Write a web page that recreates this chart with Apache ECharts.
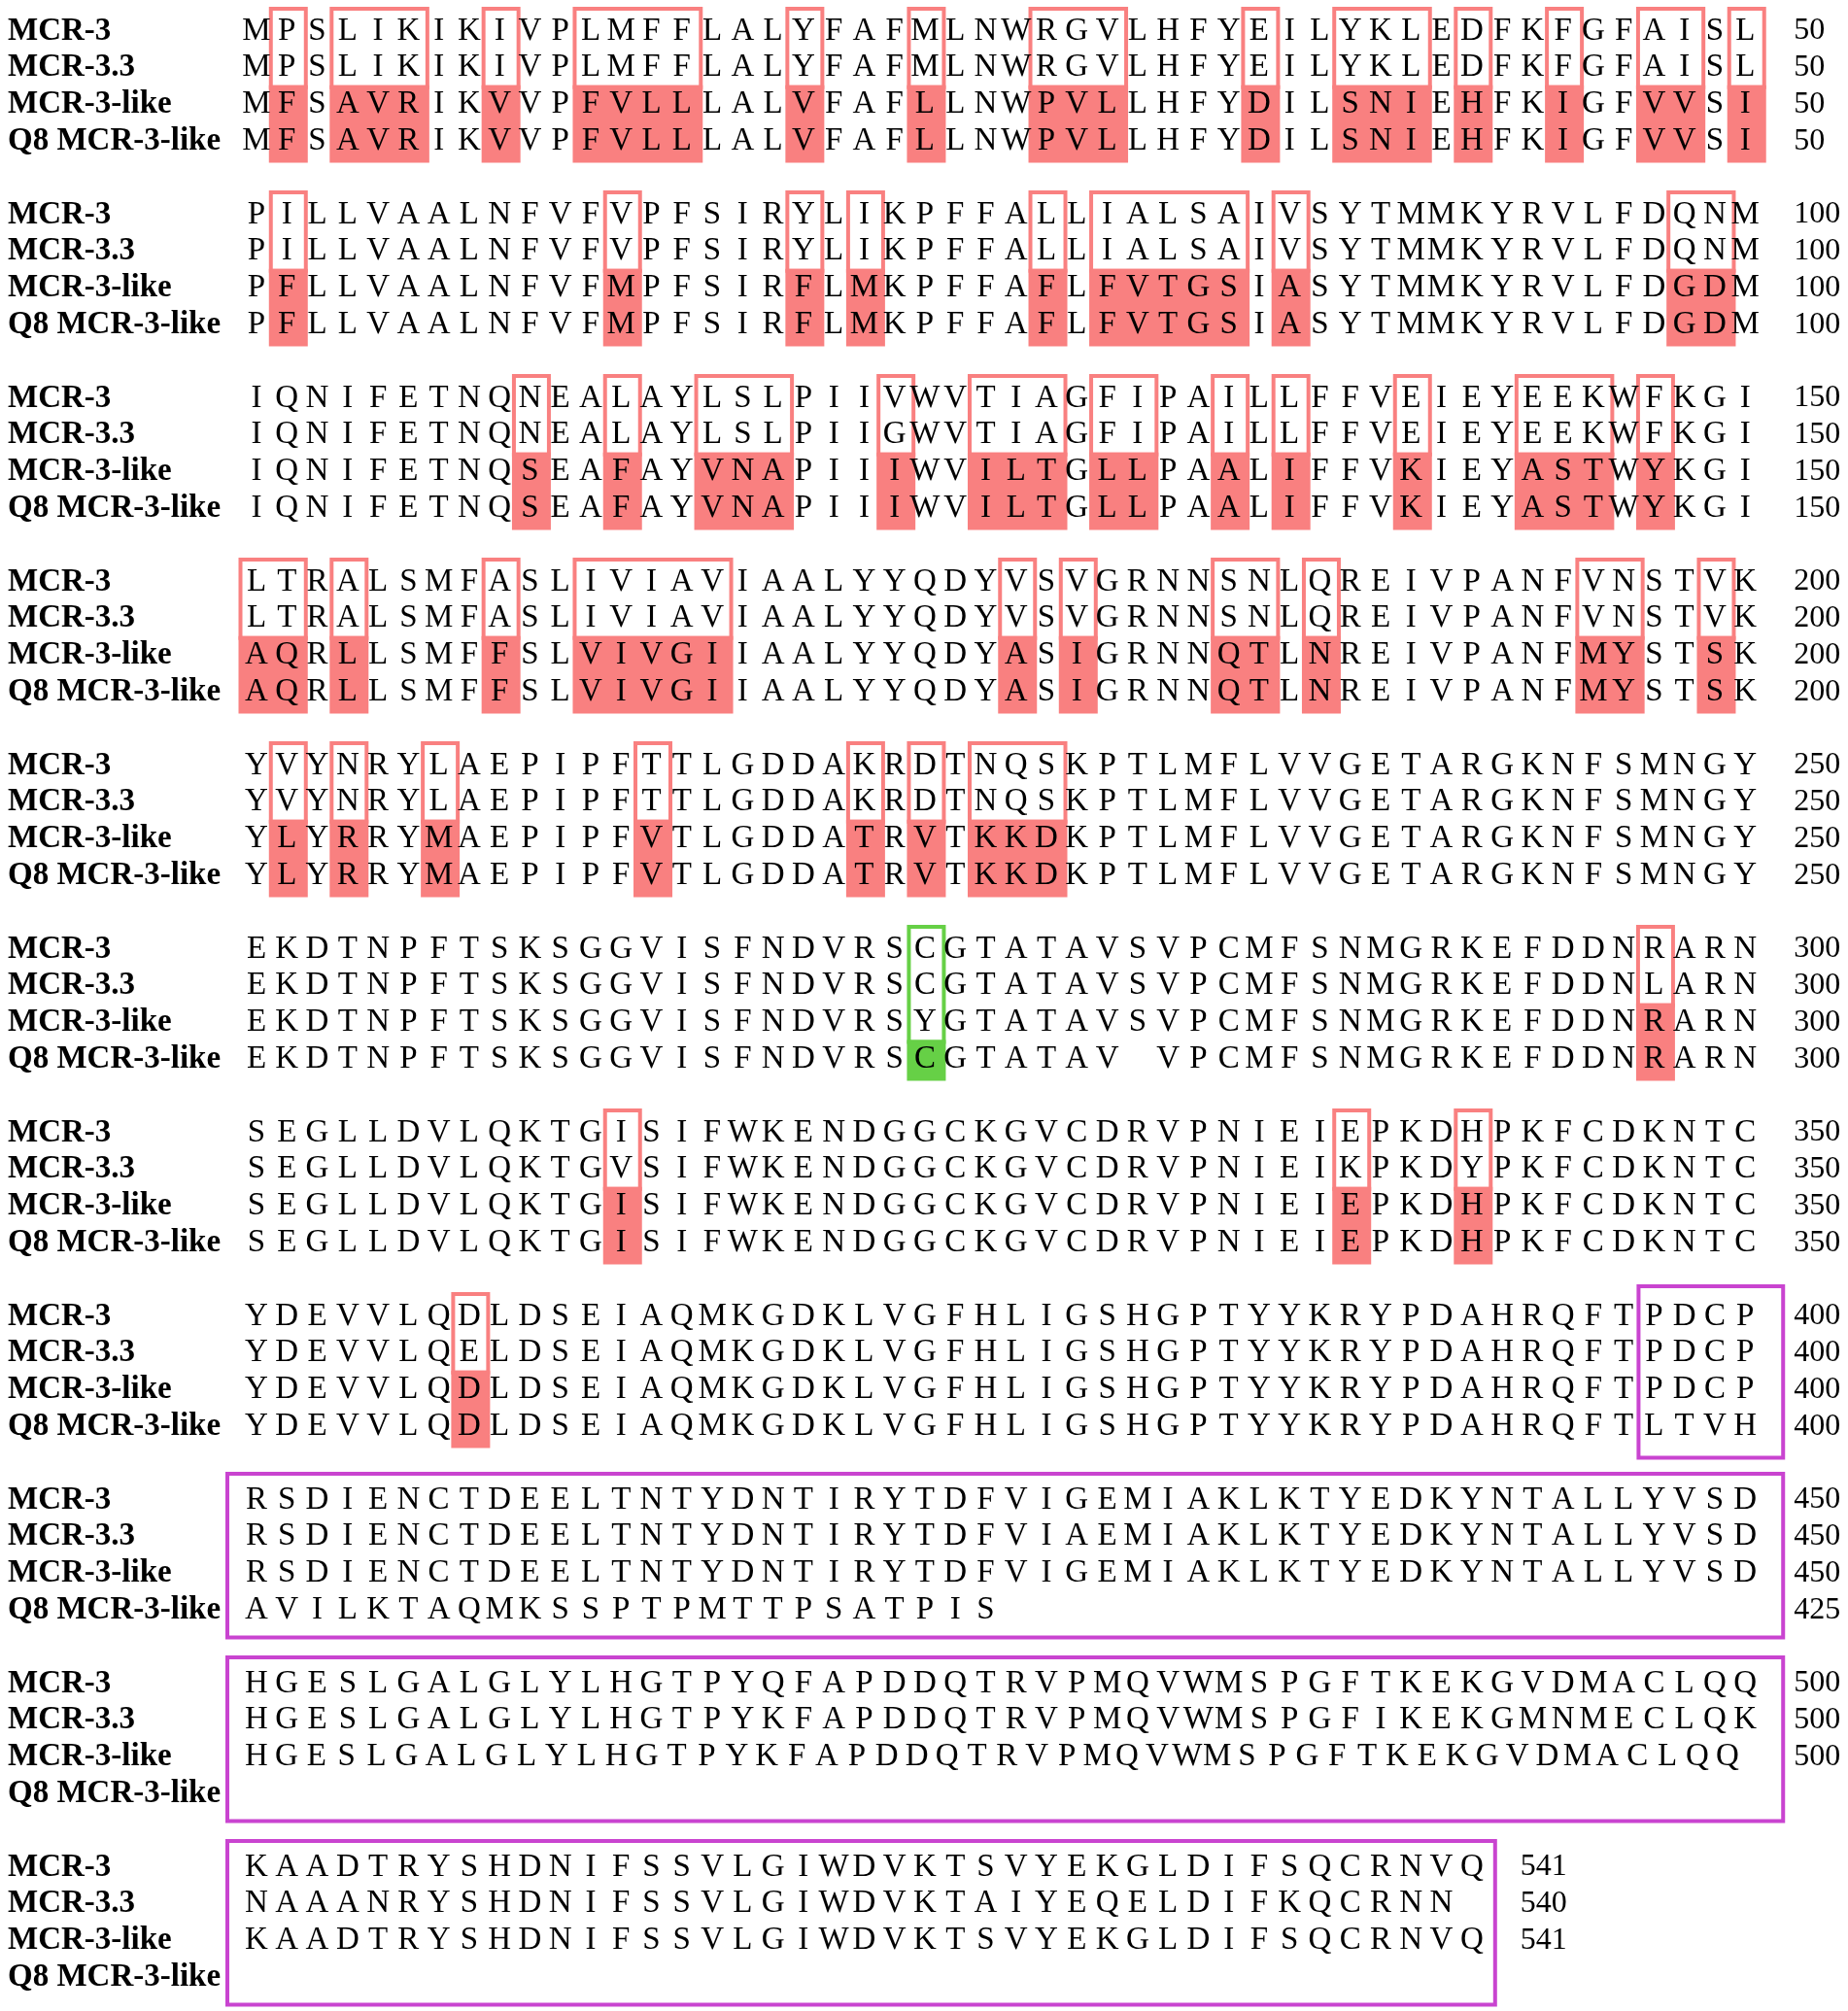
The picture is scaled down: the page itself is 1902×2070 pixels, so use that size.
<!DOCTYPE html>
<html><head><meta charset="utf-8">
<script src="https://cdn.jsdelivr.net/npm/echarts@6/dist/echarts.min.js"></script>
<style>html,body{margin:0;padding:0;background:#fff}#c{width:1902px;height:2070px}</style>
</head><body><div id="c"></div>
<script>
// ---------------- data ----------------
const seqNames = ['MCR-3', 'MCR-3.3', 'MCR-3-like', 'Q8 MCR-3-like'];
const blockSize = 50;

const seqMCR3 =
  'MPSLIKIKIVPLMFFLALYFAFMLNWRGVLHFYEILYKLEDFKFGFAISL' +
  'PILLVAALNFVFVPFSIRYLIKPFFALLIALSAIVSYTMMKYRVLFDQNM' +
  'IQNIFETNQNEALAYLSLPIIVWVTIAGFIPAILLFFVEIEYEEKWFKGI' +
  'LTRALSMFASLIVIAVIAALYYQDYVSVGRNNSNLQREIVPANFVNSTVK' +
  'YVYNRYLAEPIPFTTLGDDAKRDTNQSKPTLMFLVVGETARGKNFSMNGY' +
  'EKDTNPFTSKSGGVISFNDVRSCGTATAVSVPCMFSNMGRKEFDDNRARN' +
  'SEGLLDVLQKTGISIFWKENDGGCKGVCDRVPNIEIEPKDHPKFCDKNTC' +
  'YDEVVLQDLDSEIAQMKGDKLVGFHLIGSHGPTYYKRYPDAHRQFTPDCP' +
  'RSDIENCTDEELTNTYDNTIRYTDFVIGEMIAKLKTYEDKYNTALLYVSD' +
  'HGESLGALGLYLHGTPYQFAPDDQTRVPMQVWMSPGFTKEKGVDMACLQQ' +
  'KAADTRYSHDNIFSSVLGIWDVKTSVYEKGLDIFSQCRNVQ';

const seqMCR33 =
  'MPSLIKIKIVPLMFFLALYFAFMLNWRGVLHFYEILYKLEDFKFGFAISL' +
  'PILLVAALNFVFVPFSIRYLIKPFFALLIALSAIVSYTMMKYRVLFDQNM' +
  'IQNIFETNQNEALAYLSLPIIGWVTIAGFIPAILLFFVEIEYEEKWFKGI' +
  'LTRALSMFASLIVIAVIAALYYQDYVSVGRNNSNLQREIVPANFVNSTVK' +
  'YVYNRYLAEPIPFTTLGDDAKRDTNQSKPTLMFLVVGETARGKNFSMNGY' +
  'EKDTNPFTSKSGGVISFNDVRSCGTATAVSVPCMFSNMGRKEFDDNLARN' +
  'SEGLLDVLQKTGVSIFWKENDGGCKGVCDRVPNIEIKPKDYPKFCDKNTC' +
  'YDEVVLQELDSEIAQMKGDKLVGFHLIGSHGPTYYKRYPDAHRQFTPDCP' +
  'RSDIENCTDEELTNTYDNTIRYTDFVIAEMIAKLKTYEDKYNTALLYVSD' +
  'HGESLGALGLYLHGTPYKFAPDDQTRVPMQVWMSPGFIKEKGMNMECLQK' +
  'NAAANRYSHDNIFSSVLGIWDVKTAIYEQELDIFKQCRNN';

const seqMCR3like =
  'MFSAVRIKVVPFVLLLALVFAFLLNWPVLLHFYDILSNIEHFKIGFVVSI' +
  'PFLLVAALNFVFMPFSIRFLMKPFFAFLFVTGSIASYTMMKYRVLFDGDM' +
  'IQNIFETNQSEAFAYVNAPIIIWVILTGLLPAALIFFVKIEYASTWYKGI' +
  'AQRLLSMFFSLVIVGIIAALYYQDYASIGRNNQTLNREIVPANFMYSTSK' +
  'YLYRRYMAEPIPFVTLGDDATRVTKKDKPTLMFLVVGETARGKNFSMNGY' +
  'EKDTNPFTSKSGGVISFNDVRSYGTATAVSVPCMFSNMGRKEFDDNRARN' +
  'SEGLLDVLQKTGISIFWKENDGGCKGVCDRVPNIEIEPKDHPKFCDKNTC' +
  'YDEVVLQDLDSEIAQMKGDKLVGFHLIGSHGPTYYKRYPDAHRQFTPDCP' +
  'RSDIENCTDEELTNTYDNTIRYTDFVIGEMIAKLKTYEDKYNTALLYVSD' +
  'HGESLGALGLYLHGTPYKFAPDDQTRVPMQVWMSPGFTKEKGVDMACLQQ' +
  'KAADTRYSHDNIFSSVLGIWDVKTSVYEKGLDIFSQCRNVQ';

const seqQ8 =
  'MFSAVRIKVVPFVLLLALVFAFLLNWPVLLHFYDILSNIEHFKIGFVVSI' +
  'PFLLVAALNFVFMPFSIRFLMKPFFAFLFVTGSIASYTMMKYRVLFDGDM' +
  'IQNIFETNQSEAFAYVNAPIIIWVILTGLLPAALIFFVKIEYASTWYKGI' +
  'AQRLLSMFFSLVIVGIIAALYYQDYASIGRNNQTLNREIVPANFMYSTSK' +
  'YLYRRYMAEPIPFVTLGDDATRVTKKDKPTLMFLVVGETARGKNFSMNGY' +
  'EKDTNPFTSKSGGVISFNDVRSCGTATAV-VPCMFSNMGRKEFDDNRARN' +
  'SEGLLDVLQKTGISIFWKENDGGCKGVCDRVPNIEIEPKDHPKFCDKNTC' +
  'YDEVVLQDLDSEIAQMKGDKLVGFHLIGSHGPTYYKRYPDAHRQFTLTVH' +
  'AVILKTAQMKSSPTPMTTPSATPIS';

// highlighted residue ranges (alignment positions, inclusive)
const redSites = [
  [2,2],[4,6],[9,9],[12,15],[19,19],[23,23],[27,29],[34,34],[37,39],[41,41],[44,44],[47,48],[50,50],
  [52,52],[63,63],[69,69],[71,71],[77,77],[79,83],[85,85],[98,99],
  [110,110],[113,113],[116,118],[122,122],[125,127],[129,130],[133,133],[135,135],[139,139],[143,145],[147,147],
  [151,152],[154,154],[159,159],[162,166],[176,176],[178,178],[183,184],[186,186],[195,196],[199,199],
  [202,202],[204,204],[207,207],[214,214],[221,221],[223,223],[225,227],
  [297,297],[313,313],[337,337],[341,341],[358,358]
];
const greenSites = [[273,273]];
const framedRegions = [[397,400],[401,450],[451,500],[501,541]];

// ---------------- layout / style ----------------
const X1 = 264, PITCH = 31.27, Y0 = 32, ROWH = 37.8, RPB = 5;
const RED = '#F98080', GREEN = '#66D046', MAGENTA = '#C944D0';
const SEQ_FONT = '33px "Liberation Serif", "Times New Roman", serif';
const NUM_FONT = '32px "Liberation Serif", "Times New Roman", serif';
// the original figure typesets one row slightly tighter than the others
const rowTightness = { 47: 0.988 };

const seqs = [seqMCR3, seqMCR33, seqMCR3like, seqQ8];
const nBlocks = Math.ceil(Math.max(...seqs.map(s => s.length)) / blockSize);
const nRows = nBlocks * RPB - 1;
const rowKeys = [], rowLabels = [];
for (let r = 0; r < nRows; r++) { rowKeys.push('r' + r); rowLabels.push(r % RPB < 4 ? seqNames[r % RPB] : ''); }

// letters
const letterData = [], letterChars = [];
seqs.forEach((s, si) => {
  for (let i = 0; i < s.length; i++) {
    const ch = s[i];
    if (ch === '-') continue;
    const b = Math.floor(i / blockSize);
    letterData.push([i % blockSize + 1, b * RPB + si]);
    letterChars.push(ch);
  }
});

// right-hand numbers
const numData = [], numLabels = [];
for (let b = 0; b < nBlocks; b++) {
  const lens = seqs.map(s => Math.max(0, Math.min(blockSize, s.length - b * blockSize)));
  const maxLen = Math.max(...lens);
  lens.forEach((l, si) => {
    if (l > 0) { numData.push([maxLen, b * RPB + si]); numLabels.push(String(b * blockSize + l)); }
  });
}

function toBlockRange(a, e) {
  const b = Math.floor((a - 1) / blockSize);
  return [(a - 1) % blockSize + 1, b * RPB, (e - 1) % blockSize + 1];
}
const hlData = [];
redSites.forEach(([a, e]) => hlData.push(toBlockRange(a, e).concat([0])));
greenSites.forEach(([a, e]) => hlData.push(toBlockRange(a, e).concat([1])));
const frameData = framedRegions.map(([a, e]) => toBlockRange(a, e));

// ---------------- chart ----------------
const chart = echarts.init(document.getElementById('c'), null, { renderer: 'canvas' });
const gridLeft = X1 - PITCH;
chart.setOption({
  backgroundColor: '#fff',
  animation: false,
  grid: { left: gridLeft, top: Y0 - ROWH / 2, width: blockSize * PITCH, height: nRows * ROWH, containLabel: false },
  xAxis: { type: 'value', min: 0, max: blockSize, show: false },
  yAxis: {
    type: 'category', data: rowKeys, inverse: true,
    axisLine: { show: false }, axisTick: { show: false }, splitLine: { show: false },
    axisLabel: {
      interval: 0, align: 'left', margin: gridLeft - 8,
      formatter: (v, i) => rowLabels[i],
      fontFamily: '"Liberation Serif", "Times New Roman", serif', fontWeight: 'bold', fontSize: 33, color: '#000'
    }
  },
  series: [
    {
      type: 'custom', name: 'highlights', clip: false, z: 1, data: hlData,
      renderItem: (params, api) => {
        const sc = api.value(0), r0 = api.value(1), ec = api.value(2), kind = api.value(3);
        const a = api.coord([sc, r0]), d = api.coord([ec, r0 + 3]);
        const splitAfter = kind === 1 ? 2 : 1;
        const m1 = api.coord([sc, r0 + splitAfter])[1], m2 = api.coord([sc, r0 + splitAfter + 1])[1];
        const mid = (m1 + m2) / 2 - 1;
        const L = a[0] - 18.5, R = d[0] + 21.5, T = a[1] - 25, B = d[1] + 22;
        const col = kind === 1 ? GREEN : RED;
        return {
          type: 'group', children: [
            { type: 'rect', shape: { x: L, y: mid, width: R - L, height: B - mid }, style: { fill: col } },
            { type: 'rect', shape: { x: L + 2, y: T + 2, width: R - L - 4, height: mid - T }, style: { fill: 'none', stroke: col, lineWidth: 4 } }
          ]
        };
      }
    },
    {
      type: 'custom', name: 'frames', clip: false, z: 2, data: frameData,
      renderItem: (params, api) => {
        const sc = api.value(0), r0 = api.value(1), ec = api.value(2);
        const a = api.coord([sc, r0]), d = api.coord([ec, r0 + 3]);
        const full = sc === 1;
        const L = a[0] - (full ? 30 : 16), R = d[0] + (ec === blockSize ? 39 : 24);
        const T = a[1] - (full ? 27 : 31), B = d[1] + (full ? 28 : 32);
        return { type: 'rect', shape: { x: L, y: T, width: R - L, height: B - T }, style: { fill: 'none', stroke: MAGENTA, lineWidth: 4 } };
      }
    },
    {
      type: 'custom', name: 'residues', clip: false, z: 3, data: letterData,
      renderItem: (params, api) => {
        const c = api.value(0), r = api.value(1);
        const p = api.coord([c, r]);
        let x = p[0];
        const k = rowTightness[r];
        if (k) { const x1 = api.coord([1, r])[0]; x = x1 + (x - x1) * k; }
        return { type: 'text', x: x, y: p[1], style: { text: letterChars[params.dataIndex], fill: '#000', font: SEQ_FONT, align: 'center', verticalAlign: 'middle', textAlign: 'center', textVerticalAlign: 'middle' } };
      }
    },
    {
      type: 'custom', name: 'positions', clip: false, z: 3, data: numData,
      renderItem: (params, api) => {
        const p = api.coord([api.value(0), api.value(1)]);
        return { type: 'text', x: p[0] + 50, y: p[1], style: { text: numLabels[params.dataIndex], fill: '#000', font: NUM_FONT, align: 'left', verticalAlign: 'middle', textAlign: 'left', textVerticalAlign: 'middle' } };
      }
    }
  ]
});
</script></body></html>
